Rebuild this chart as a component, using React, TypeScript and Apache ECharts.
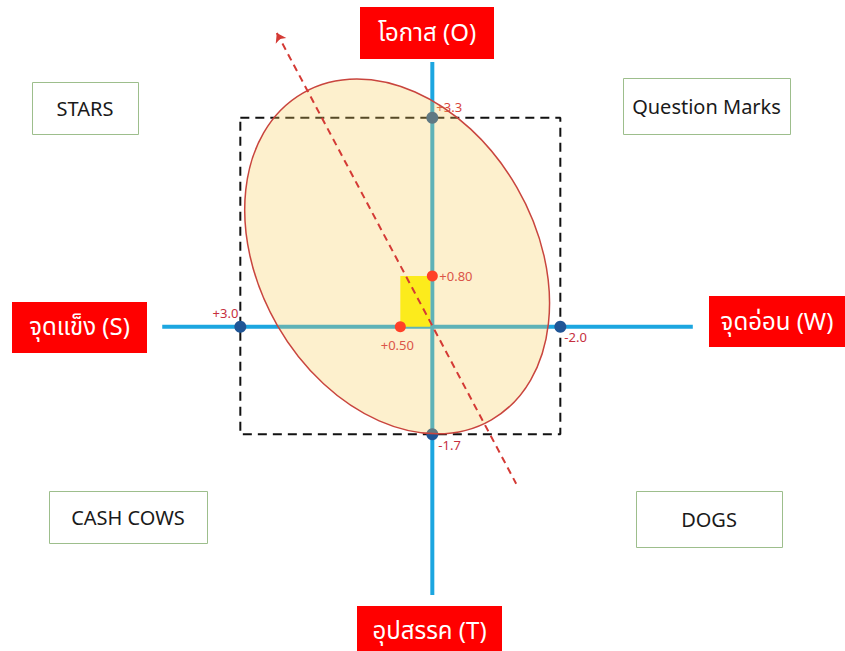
import React, { useEffect, useRef } from "react";
import * as echarts from "echarts";

// ---- data ----
const factorNames = ["จุดแข็ง (S)", "จุดอ่อน (W)", "โอกาส (O)", "อุปสรรค (T)"];
const quadrantNames = ["STARS", "Question Marks", "CASH COWS", "DOGS"];

// extreme scores on each axis: [x, y, label]
const extremePoints: [number, number, string][] = [
  [3.0, 0, "+3.0"],
  [-2.0, 0, "-2.0"],
  [0, 3.3, "+3.3"],
  [0, -1.7, "-1.7"],
];
// net scores: [x, y, label]
const netPoints: [number, number, string][] = [
  [0.5, 0, "+0.50"],
  [0, 0.8, "+0.80"],
];
// net score rectangle corner (from origin)
const netRect: [number, number][] = [[0.5, 0.8]];
// bounding box of extreme scores
const boxCorners: [number, number][] = [
  [3.0, 3.3],
  [-2.0, 3.3],
  [-2.0, -1.7],
  [3.0, -1.7],
  [3.0, 3.3],
];
// axis extents
const swAxis: [number, number][] = [
  [4.22, 0],
  [-4.07, 0],
];
const otAxis: [number, number][] = [
  [0, 4.18],
  [0, -4.24],
];
// ellipse: [cx, cy, semi-minor (x units), semi-major (y units), tilt deg]
const ellipseData: [number, number, number, number, number][] = [
  [0.55, 1.11, 2.16, 2.98, 30],
];
// trend arrow: start (arrow head) and end
const trendLine: [number, number][] = [
  [2.43, 4.64],
  [-1.31, -2.48],
];
// axis ranges
const xRange = [-6.448, 6.755];
const yRange = [-5.123, 5.161];

export default function App() {
  const ref = useRef<HTMLDivElement>(null);

  useEffect(() => {
    if (!ref.current) return;
    const chart = echarts.init(ref.current, undefined, { renderer: "svg" });

    const labelPos: Record<string, any> = {
      "+3.0": { position: [4, -8], align: "right", verticalAlign: "middle", color: "#C62F3E" },
      "-2.0": { position: [10, 16], align: "left", verticalAlign: "middle", color: "#C62F3E" },
      "+3.3": { position: [10, -5], align: "left", verticalAlign: "middle", color: "#D9453C" },
      "-1.7": { position: [12, 17], align: "left", verticalAlign: "middle", color: "#C62F3E" },
      "+0.50": { position: [2.5, 23.5], align: "center", verticalAlign: "middle", color: "#DB5548" },
      "+0.80": { position: [12.5, 5.5], align: "left", verticalAlign: "middle", color: "#DB5548" },
    };

    const fontFam = '"Noto Sans", "Noto Sans Thai", Tahoma, sans-serif';

    const boxStyle = { fill: "#fff", stroke: "#9DBE8C", lineWidth: 1 };
    const quadBoxes = [
      { x: 32, y: 82, w: 106, h: 52 },
      { x: 623, y: 78, w: 167, h: 56 },
      { x: 49, y: 491, w: 158, h: 52 },
      { x: 636, y: 491, w: 146, h: 56 },
    ];
    const factorBoxes = [
      { x: 12, y: 302, w: 135, h: 51 },
      { x: 709, y: 296, w: 136, h: 51 },
      { x: 360, y: 7, w: 134, h: 52 },
      { x: 357, y: 606, w: 145, h: 50 },
    ];
    const factorTextOffset = [
      [0, -2],
      [0, -1],
      [0, -2],
      [0, -2],
    ];

    const graphics: any[] = [];
    quadrantNames.forEach((name, i) => {
      const b = quadBoxes[i];
      graphics.push({
        type: "rect",
        shape: { x: b.x + 0.5, y: b.y + 0.5, width: b.w, height: b.h },
        style: boxStyle,
        z: 10,
      });
      graphics.push({
        type: "text",
        x: b.x + b.w / 2,
        y: b.y + b.h / 2,
        style: {
          text: name,
          fill: "#1a1a1a",
          font: `20px ${fontFam}`,
          align: "center",
          verticalAlign: "middle",
        },
        z: 11,
      });
    });
    factorNames.forEach((name, i) => {
      const b = factorBoxes[i];
      graphics.push({
        type: "rect",
        shape: { x: b.x, y: b.y, width: b.w, height: b.h },
        style: { fill: "#FF0000" },
        z: 10,
      });
      graphics.push({
        type: "text",
        x: b.x + b.w / 2 + factorTextOffset[i][0],
        y: b.y + b.h / 2 + factorTextOffset[i][1],
        style: {
          text: name,
          fill: "#ffffff",
          font: `24px ${fontFam}`,
          align: "center",
          verticalAlign: "middle",
        },
        z: 11,
      });
    });

    const option: any = {
      animation: false,
      backgroundColor: "#ffffff",
      grid: { left: 0, right: 0, top: 0, bottom: 0 },
      xAxis: { type: "value", min: xRange[0], max: xRange[1], inverse: true, show: false },
      yAxis: { type: "value", min: yRange[0], max: yRange[1], show: false },
      graphic: graphics,
      series: [
        {
          name: "SW axis",
          type: "line",
          data: swAxis,
          symbol: "none",
          lineStyle: { color: "#1CA6E0", width: 4 },
          z: 1,
          silent: true,
        },
        {
          name: "OT axis",
          type: "line",
          data: otAxis,
          symbol: "none",
          lineStyle: { color: "#1CA6E0", width: 4 },
          z: 1,
          silent: true,
        },
        {
          name: "box",
          type: "line",
          data: boxCorners,
          symbol: "none",
          lineStyle: { color: "#111111", width: 2, type: [9, 6] },
          z: 2,
          silent: true,
        },
        {
          name: "extremes",
          type: "scatter",
          data: extremePoints.map((p) => ({
            value: [p[0], p[1]],
            label: {
              show: true,
              formatter: p[2],
              fontSize: 13,
              fontFamily: fontFam,
              ...labelPos[p[2]],
            },
          })),
          symbolSize: 12,
          itemStyle: { color: "#1F5596", opacity: 1 },
          z: 3,
        },
        {
          name: "ellipse",
          type: "custom",
          data: ellipseData,
          renderItem: (params: any, api: any) => {
            const c = api.coord([api.value(0), api.value(1)]);
            const s = api.size([api.value(2), api.value(3)]);
            return {
              type: "ellipse",
              x: c[0],
              y: c[1],
              rotation: (api.value(4) * Math.PI) / 180,
              shape: { cx: 0, cy: 0, rx: s[0], ry: s[1] },
              style: {
                fill: "rgba(250,205,90,0.3)",
                stroke: "#C9453E",
                lineWidth: 1.5,
              },
            };
          },
          z: 4,
          silent: true,
        },
        {
          name: "net rect",
          type: "custom",
          data: netRect,
          renderItem: (params: any, api: any) => {
            const p0 = api.coord([0, 0]);
            const p1 = api.coord([api.value(0), api.value(1)]);
            return {
              type: "rect",
              shape: {
                x: Math.min(p0[0], p1[0]),
                y: Math.min(p0[1], p1[1]),
                width: Math.abs(p1[0] - p0[0]) - 2,
                height: Math.abs(p1[1] - p0[1]),
              },
              style: { fill: "#FCEB1C" },
            };
          },
          z: 5,
          silent: true,
        },
        {
          name: "trend",
          type: "lines",
          coordinateSystem: "cartesian2d",
          data: [{ coords: trendLine }],
          symbol: ["arrow", "none"],
          symbolSize: 9,
          lineStyle: { color: "#D43A35", width: 2, type: [7, 5], opacity: 1 },
          z: 6,
          silent: true,
        },
        {
          name: "net",
          type: "scatter",
          data: netPoints.map((p) => ({
            value: [p[0], p[1]],
            label: {
              show: true,
              formatter: p[2],
              fontSize: 13,
              fontFamily: fontFam,
              ...labelPos[p[2]],
            },
          })),
          symbolSize: 11,
          itemStyle: { color: "#FF4128", opacity: 1 },
          z: 7,
        },
      ],
    };

    chart.setOption(option);
    return () => chart.dispose();
  }, []);

  return (
    <div
      ref={ref}
      style={{ position: "fixed", left: 0, top: 0, width: 845, height: 651 }}
    />
  );
}
